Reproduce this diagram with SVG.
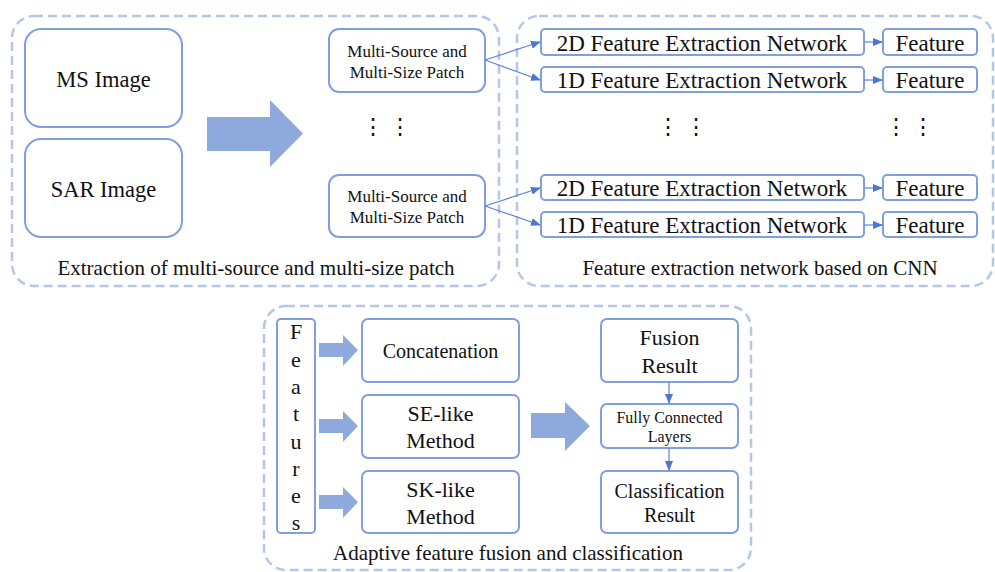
<svg xmlns="http://www.w3.org/2000/svg" width="995" height="572" viewBox="0 0 995 572">
<style>
.panel{fill:none;stroke:#b4c7e7;stroke-width:2.5;stroke-dasharray:9 5}
.box{fill:#fff;stroke:#7f9fe0;stroke-width:2}
.t{font-family:"Liberation Serif","Times New Roman",serif;fill:#111;text-anchor:middle}
.big{fill:#8eaadc}
.con{fill:none;stroke:#5b84d6;stroke-width:1.2}
</style>
<defs>
<marker id="ah" markerWidth="10" markerHeight="8" refX="9" refY="4" orient="auto" markerUnits="userSpaceOnUse">
<path d="M0,0 L10,4 L0,8 z" fill="#4a78d0"/>
</marker>
</defs>
<rect width="995" height="572" fill="#fff"/>

<g id="panel1">
<rect class="panel" x="12" y="16" width="487" height="270" rx="22"/>
<text class="t" x="256" y="275" font-size="21">Extraction of multi-source and multi-size patch</text>
</g>
<g id="panel2">
<rect class="panel" x="517" y="16" width="476" height="270" rx="22"/>
<text class="t" x="760" y="275" font-size="21">Feature extraction network based on CNN</text>
</g>
<g id="panel3">
<rect class="panel" x="264" y="306" width="487" height="264" rx="22"/>
<text class="t" x="508" y="560" font-size="21">Adaptive feature fusion and classification</text>
</g>

<g id="ms">
<rect class="box" x="25" y="29" width="157" height="98" rx="16"/>
<text class="t" x="103.500" y="87" font-size="22.500">MS Image</text>
</g>
<g id="sar">
<rect class="box" x="25" y="139" width="157" height="98" rx="16"/>
<text class="t" x="103.500" y="197" font-size="22.500">SAR Image</text>
</g>
<g id="bigarrow1">
<path class="big" d="M207,117 H270 V100 L303,133.500 L270,167 V151 H207 z"/>
</g>
<g id="patch1">
<rect class="box" x="329" y="29" width="156" height="63" rx="10"/>
<text class="t" x="407" y="57" font-size="17">Multi-Source and</text>
<text class="t" x="407" y="78" font-size="17">Multi-Size Patch</text>
</g>
<g id="dots1">
<text class="t" x="373" y="134" font-size="22">⋮</text>
<text class="t" x="400" y="134" font-size="22">⋮</text>
</g>
<g id="patch2">
<rect class="box" x="329" y="175" width="156" height="62" rx="10"/>
<text class="t" x="407" y="202" font-size="17">Multi-Source and</text>
<text class="t" x="407" y="223" font-size="17">Multi-Size Patch</text>
</g>

<g id="net2d_1">
<rect class="box" x="541" y="29" width="323" height="26" rx="4"/>
<text class="t" x="702" y="51" font-size="23">2D Feature Extraction Network</text>
</g>
<g id="net1d_1">
<rect class="box" x="541" y="67" width="323" height="25" rx="4"/>
<text class="t" x="702" y="88" font-size="23">1D Feature Extraction Network</text>
</g>
<g id="net2d_2">
<rect class="box" x="541" y="175" width="323" height="25" rx="4"/>
<text class="t" x="702" y="196" font-size="23">2D Feature Extraction Network</text>
</g>
<g id="net1d_2">
<rect class="box" x="541" y="212" width="323" height="25" rx="4"/>
<text class="t" x="702" y="233" font-size="23">1D Feature Extraction Network</text>
</g>
<g id="feat1">
<rect class="box" x="883" y="29" width="94" height="26" rx="4"/>
<text class="t" x="930" y="51" font-size="23">Feature</text>
</g>
<g id="feat2">
<rect class="box" x="883" y="67" width="94" height="25" rx="4"/>
<text class="t" x="930" y="88" font-size="23">Feature</text>
</g>
<g id="feat3">
<rect class="box" x="883" y="175" width="94" height="25" rx="4"/>
<text class="t" x="930" y="196" font-size="23">Feature</text>
</g>
<g id="feat4">
<rect class="box" x="883" y="212" width="94" height="25" rx="4"/>
<text class="t" x="930" y="233" font-size="23">Feature</text>
</g>
<g id="dots2">
<text class="t" x="668" y="134" font-size="22">⋮</text>
<text class="t" x="696" y="134" font-size="22">⋮</text>
<text class="t" x="896" y="134" font-size="22">⋮</text>
<text class="t" x="923" y="134" font-size="22">⋮</text>
</g>

<g id="features">
<rect class="box" x="277" y="319" width="38" height="214" rx="4"/>
<g class="t" font-size="22">
<text x="296" y="339">F</text>
<text x="296" y="367">e</text>
<text x="296" y="394">a</text>
<text x="296" y="421">t</text>
<text x="296" y="449">u</text>
<text x="296" y="476">r</text>
<text x="296" y="503">e</text>
<text x="296" y="530">s</text>
</g>
</g>
<g id="smallarrows">
<path class="big" d="M319,343 H343 V335 L358,350 L343,366 V357 H319 z"/>
<path class="big" d="M319,419 H343 V411 L358,426 L343,442 V433 H319 z"/>
<path class="big" d="M319,495 H343 V487 L358,502 L343,518 V509 H319 z"/>
</g>
<g id="concat">
<rect class="box" x="362" y="319" width="157" height="63" rx="6"/>
<text class="t" x="440.500" y="358" font-size="20">Concatenation</text>
</g>
<g id="se">
<rect class="box" x="362" y="395" width="157" height="63" rx="6"/>
<text class="t" x="440.500" y="421" font-size="22">SE-like</text>
<text class="t" x="440.500" y="448" font-size="22">Method</text>
</g>
<g id="sk">
<rect class="box" x="362" y="471" width="157" height="62" rx="6"/>
<text class="t" x="440.500" y="497" font-size="22">SK-like</text>
<text class="t" x="440.500" y="524" font-size="22">Method</text>
</g>
<g id="bigarrow2">
<path class="big" d="M531,413 H565 V402 L590,426 L565,451 V438 H531 z"/>
</g>
<g id="fusion">
<rect class="box" x="601" y="319" width="137" height="63" rx="6"/>
<text class="t" x="669.500" y="345" font-size="22">Fusion</text>
<text class="t" x="669.500" y="373" font-size="22">Result</text>
</g>
<g id="fc">
<rect class="box" x="601" y="404" width="137" height="44" rx="6"/>
<text class="t" x="669.500" y="423" font-size="16">Fully Connected</text>
<text class="t" x="669.500" y="442" font-size="16">Layers</text>
</g>
<g id="cls">
<rect class="box" x="601" y="471" width="137" height="62" rx="6"/>
<text class="t" x="669.500" y="498" font-size="20">Classification</text>
<text class="t" x="669.500" y="522" font-size="20">Result</text>
</g>

<g id="connectors">
<line class="con" x1="485" y1="60" x2="540" y2="42" marker-end="url(#ah)"/>
<line class="con" x1="485" y1="60" x2="540" y2="80" marker-end="url(#ah)"/>
<line class="con" x1="485" y1="206" x2="540" y2="188" marker-end="url(#ah)"/>
<line class="con" x1="485" y1="206" x2="540" y2="225" marker-end="url(#ah)"/>
<line class="con" x1="864" y1="42" x2="882" y2="42" marker-end="url(#ah)"/>
<line class="con" x1="864" y1="80" x2="882" y2="80" marker-end="url(#ah)"/>
<line class="con" x1="864" y1="188" x2="882" y2="188" marker-end="url(#ah)"/>
<line class="con" x1="864" y1="225" x2="882" y2="225" marker-end="url(#ah)"/>
<line class="con" x1="669" y1="382" x2="669" y2="403" marker-end="url(#ah)"/>
<line class="con" x1="669" y1="448" x2="669" y2="470" marker-end="url(#ah)"/>
</g>
</svg>
